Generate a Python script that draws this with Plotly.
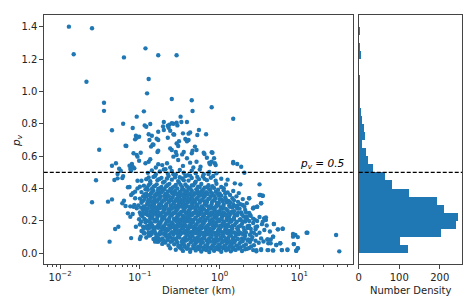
import plotly.graph_objects as go

# ---------------- data (log10 diameter in km, geometric albedo p_v) ----------------
band_a = [(-0.62,0.031),(-0.55,0.022),(-0.5,0.036),(-0.46,0.015),(-0.41,0.028),(-0.37,0.009),(-0.33,0.033),(-0.3,0.018),
          (-0.26,0.027),(-0.23,0.011),(-0.2,0.035),(-0.17,0.02),(-0.13,0.008),(-0.1,0.03),(-0.07,0.016),(-0.04,0.038),
          (-0.01,0.024),(0.02,0.01),(0.05,0.032),(0.08,0.019),(0.11,0.027),(0.14,0.012),(0.17,0.036),(0.2,0.021),
          (0.24,0.03),(0.28,0.014),(0.32,0.025),(0.37,0.033),(0.42,0.02),(0.46,0.012),(0.52,0.026),(0.6,0.02),
          (0.67,0.018),(0.78,0.02),(0.85,0.024),(0.96,0.016),(0.98,0.031),(-0.44,0.04),(-0.27,0.039),(-0.15,0.037),
          (0.0,0.04),(0.12,0.039)]
band_b = [(-0.78,0.072),(-0.72,0.058),(-0.68,0.066),(-0.64,0.049),(-0.6,0.075),(-0.57,0.056),(-0.53,0.067),(-0.49,0.048),
          (-0.46,0.062),(-0.43,0.077),(-0.39,0.053),(-0.36,0.069),(-0.33,0.046),(-0.3,0.061),(-0.27,0.074),(-0.24,0.052),
          (-0.21,0.066),(-0.18,0.045),(-0.15,0.059),(-0.12,0.073),(-0.09,0.05),(-0.06,0.064),(-0.03,0.078),(0.0,0.055),
          (0.03,0.068),(0.06,0.047),(0.09,0.061),(0.12,0.075),(0.15,0.053),(0.18,0.067),(0.21,0.049),(0.25,0.063),
          (0.29,0.076),(0.33,0.055),(0.38,0.07),(0.43,0.05),(0.49,0.065),(0.55,0.073),(0.61,0.062),(0.64,0.086),
          (0.71,0.051),(0.76,0.062),(0.93,0.057),(-0.8,0.093),(-0.77,0.072)]
band_c = [(-0.92,0.098),(-0.87,0.112),(-0.83,0.088),(-0.79,0.104),(-0.75,0.118),(-0.72,0.092),(-0.68,0.108),(-0.65,0.083),
          (-0.62,0.099),(-0.58,0.114),(-0.55,0.09),(-0.52,0.105),(-0.49,0.119),(-0.46,0.085),(-0.43,0.1),(-0.4,0.115),
          (-0.37,0.091),(-0.34,0.107),(-0.31,0.082),(-0.28,0.097),(-0.25,0.113),(-0.22,0.088),(-0.19,0.103),(-0.16,0.118),
          (-0.13,0.093),(-0.1,0.109),(-0.07,0.084),(-0.04,0.1),(-0.01,0.116),(0.02,0.09),(0.05,0.106),(0.08,0.081),
          (0.11,0.097),(0.14,0.112),(0.17,0.087),(0.2,0.103),(0.24,0.117),(0.28,0.092),(0.32,0.108),(0.36,0.085),
          (0.41,0.1),(0.46,0.114),(0.52,0.092),(0.6,0.086),(0.67,0.103),(0.92,0.103),(0.98,0.1)]
band_d = [(-0.98,0.138),(-0.94,0.124),(-0.9,0.152),(-0.86,0.131),(-0.83,0.146),(-0.8,0.121),(-0.77,0.158),(-0.74,0.135),
          (-0.71,0.149),(-0.68,0.126),(-0.65,0.142),(-0.62,0.157),(-0.59,0.129),(-0.56,0.145),(-0.53,0.122),(-0.5,0.139),
          (-0.47,0.154),(-0.44,0.127),(-0.41,0.143),(-0.38,0.159),(-0.35,0.132),(-0.32,0.148),(-0.29,0.123),(-0.26,0.14),
          (-0.23,0.155),(-0.2,0.128),(-0.17,0.144),(-0.14,0.121),(-0.11,0.137),(-0.08,0.153),(-0.05,0.126),(-0.02,0.141),
          (0.01,0.157),(0.04,0.13),(0.07,0.146),(0.1,0.122),(0.13,0.138),(0.16,0.154),(0.19,0.129),(0.23,0.145),
          (0.27,0.125),(0.31,0.142),(0.35,0.156),(0.4,0.131),(0.45,0.148),(0.5,0.127),(0.56,0.144),(0.63,0.135),
          (0.73,0.148),(0.79,0.152),(0.95,0.113),(1.09,0.127)]
band_e = [(-1.0,0.178),(-0.96,0.164),(-0.93,0.192),(-0.89,0.171),(-0.86,0.186),(-0.83,0.162),(-0.8,0.198),(-0.77,0.175),
          (-0.74,0.189),(-0.71,0.166),(-0.68,0.182),(-0.65,0.197),(-0.62,0.169),(-0.59,0.185),(-0.56,0.161),(-0.53,0.179),
          (-0.5,0.194),(-0.47,0.167),(-0.44,0.183),(-0.41,0.199),(-0.38,0.172),(-0.35,0.188),(-0.32,0.163),(-0.29,0.18),
          (-0.26,0.195),(-0.23,0.168),(-0.2,0.184),(-0.17,0.161),(-0.14,0.177),(-0.11,0.193),(-0.08,0.166),(-0.05,0.181),
          (-0.02,0.197),(0.01,0.17),(0.04,0.186),(0.07,0.162),(0.1,0.178),(0.13,0.194),(0.16,0.169),(0.2,0.185),
          (0.24,0.165),(0.28,0.182),(0.32,0.196),(0.37,0.171),(0.42,0.187),(0.47,0.166),(0.53,0.18),(0.59,0.172),
          (0.68,0.181),(-1.05,0.164),(-1.31,0.15),(-1.27,0.164)]
band_f = [(-1.01,0.21),(-0.97,0.228),(-0.93,0.204),(-0.9,0.236),(-0.87,0.217),(-0.84,0.232),(-0.81,0.208),(-0.78,0.224),
          (-0.75,0.239),(-0.72,0.212),(-0.69,0.228),(-0.66,0.203),(-0.63,0.22),(-0.6,0.235),(-0.57,0.207),(-0.54,0.223),
          (-0.51,0.238),(-0.48,0.211),(-0.45,0.227),(-0.42,0.202),(-0.39,0.219),(-0.36,0.234),(-0.33,0.206),(-0.3,0.222),
          (-0.27,0.237),(-0.24,0.21),(-0.21,0.226),(-0.18,0.201),(-0.15,0.218),(-0.12,0.233),(-0.09,0.205),(-0.06,0.221),
          (-0.03,0.236),(0.0,0.209),(0.03,0.225),(0.06,0.24),(0.09,0.213),(0.12,0.229),(0.15,0.204),(0.18,0.22),
          (0.22,0.235),(0.26,0.211),(0.3,0.227),(0.34,0.215),(0.39,0.231),(0.44,0.208),(0.5,0.224),(0.56,0.216),
          (0.58,0.206),(-1.12,0.226),(-1.09,0.243)]
band_g = [(-1.0,0.252),(-0.96,0.268),(-0.93,0.244),(-0.9,0.276),(-0.87,0.257),(-0.84,0.272),(-0.81,0.248),(-0.78,0.264),
          (-0.75,0.279),(-0.72,0.253),(-0.69,0.269),(-0.66,0.245),(-0.63,0.26),(-0.6,0.275),(-0.57,0.249),(-0.54,0.265),
          (-0.51,0.241),(-0.48,0.257),(-0.45,0.273),(-0.42,0.246),(-0.39,0.262),(-0.36,0.277),(-0.33,0.25),(-0.3,0.266),
          (-0.27,0.242),(-0.24,0.258),(-0.21,0.274),(-0.18,0.247),(-0.15,0.263),(-0.12,0.278),(-0.09,0.251),(-0.06,0.267),
          (-0.03,0.243),(0.0,0.259),(0.03,0.275),(0.06,0.248),(0.1,0.264),(0.14,0.244),(0.18,0.26),(0.22,0.276),
          (0.27,0.252),(0.32,0.268),(0.37,0.249),(0.42,0.278),(0.47,0.288),(-1.15,0.247),(-1.04,0.278)]
band_h = [(-1.02,0.296),(-0.98,0.312),(-0.94,0.288),(-0.91,0.304),(-0.88,0.319),(-0.85,0.292),(-0.82,0.308),(-0.79,0.283),
          (-0.76,0.299),(-0.73,0.315),(-0.7,0.287),(-0.67,0.303),(-0.64,0.318),(-0.61,0.291),(-0.58,0.307),(-0.55,0.282),
          (-0.52,0.298),(-0.49,0.314),(-0.46,0.286),(-0.43,0.302),(-0.4,0.317),(-0.37,0.29),(-0.34,0.306),(-0.31,0.281),
          (-0.28,0.297),(-0.25,0.313),(-0.22,0.285),(-0.19,0.301),(-0.16,0.316),(-0.13,0.289),(-0.1,0.305),(-0.07,0.28),
          (-0.04,0.296),(-0.01,0.311),(0.02,0.284),(0.05,0.3),(0.09,0.315),(0.13,0.288),(0.17,0.304),(0.22,0.293),
          (0.26,0.303),(0.29,0.298),(0.34,0.31),(0.52,0.309),(-1.08,0.288),(-1.12,0.29),(-1.18,0.292),(-1.07,0.298)]
band_i = [(-1.0,0.338),(-0.96,0.324),(-0.92,0.352),(-0.89,0.331),(-0.86,0.346),(-0.83,0.322),(-0.8,0.357),(-0.77,0.335),
          (-0.74,0.349),(-0.71,0.326),(-0.68,0.342),(-0.65,0.358),(-0.62,0.329),(-0.59,0.345),(-0.56,0.321),(-0.53,0.339),
          (-0.5,0.354),(-0.47,0.327),(-0.44,0.343),(-0.41,0.359),(-0.38,0.332),(-0.35,0.348),(-0.32,0.323),(-0.29,0.34),
          (-0.26,0.355),(-0.23,0.328),(-0.2,0.344),(-0.17,0.321),(-0.14,0.337),(-0.11,0.353),(-0.08,0.326),(-0.05,0.341),
          (-0.01,0.357),(0.03,0.33),(0.07,0.346),(0.11,0.324),(0.16,0.34),(0.21,0.352),(0.29,0.335),(0.37,0.34),
          (-1.06,0.34),(-1.2,0.325),(-1.22,0.309),(-1.35,0.333),(-1.4,0.319),(-1.6,0.315)]
band_j = [(-0.98,0.378),(-0.94,0.364),(-0.9,0.392),(-0.86,0.371),(-0.83,0.386),(-0.8,0.362),(-0.77,0.397),(-0.74,0.375),
          (-0.71,0.389),(-0.68,0.366),(-0.65,0.382),(-0.62,0.398),(-0.59,0.369),(-0.56,0.385),(-0.53,0.361),(-0.5,0.379),
          (-0.47,0.394),(-0.44,0.367),(-0.41,0.383),(-0.38,0.363),(-0.35,0.388),(-0.32,0.372),(-0.29,0.395),(-0.26,0.368),
          (-0.23,0.384),(-0.2,0.361),(-0.17,0.377),(-0.13,0.393),(-0.09,0.366),(-0.05,0.381),(0.0,0.37),(0.05,0.389),
          (0.1,0.376),(0.17,0.385),(0.24,0.372),(0.51,0.36),(0.54,0.356),(-1.09,0.371),(-1.11,0.36),(-1.06,0.381),
          (-1.15,0.408)]
band_k = [(-0.95,0.418),(-0.91,0.405),(-0.87,0.432),(-0.83,0.411),(-0.79,0.426),(-0.75,0.402),(-0.71,0.437),(-0.67,0.415),
          (-0.63,0.429),(-0.59,0.406),(-0.55,0.422),(-0.51,0.438),(-0.47,0.409),(-0.43,0.425),(-0.39,0.403),(-0.35,0.419),
          (-0.31,0.434),(-0.27,0.412),(-0.23,0.428),(-0.19,0.405),(-0.14,0.421),(-0.09,0.414),(-0.04,0.43),(0.02,0.41),
          (0.08,0.425),(0.19,0.432),(0.26,0.426),(0.5,0.426),(-1.03,0.401),(-1.0,0.411),(-1.13,0.41)]
band_l = [(-0.92,0.458),(-0.87,0.445),(-0.83,0.472),(-0.78,0.451),(-0.73,0.466),(-0.69,0.443),(-0.64,0.477),(-0.6,0.455),
          (-0.56,0.469),(-0.52,0.446),(-0.47,0.462),(-0.43,0.478),(-0.39,0.449),(-0.35,0.465),(-0.3,0.442),(-0.26,0.458),
          (-0.21,0.474),(-0.16,0.452),(-0.11,0.467),(-0.05,0.448),(0.02,0.461),(0.1,0.455),(-1.03,0.448),(-0.98,0.448),
          (-1.22,0.465),(-1.21,0.477),(-1.28,0.463),(-1.32,0.453),(-1.55,0.451)]
band_m = [(-0.9,0.497),(-0.85,0.512),(-0.8,0.488),(-0.75,0.505),(-0.7,0.518),(-0.65,0.492),(-0.6,0.508),(-0.55,0.485),
          (-0.5,0.515),(-0.45,0.498),(-0.4,0.482),(-0.35,0.511),(-0.3,0.494),(-0.25,0.517),(-0.2,0.489),(-0.13,0.503),
          (-0.04,0.494),(0.31,0.498),(-1.28,0.49),(-1.24,0.51),(-1.26,0.523),(-1.12,0.521),(-1.11,0.51),(-1.07,0.525),
          (-1.13,0.541),(-1.1,0.552),(-1.09,0.535)]
band_n = [(-0.93,0.556),(-0.89,0.566),(-0.87,0.581),(-0.77,0.55),(-0.72,0.545),(-0.66,0.556),(-0.58,0.597),(-0.54,0.607),
          (-0.52,0.576),(-0.41,0.587),(-0.37,0.56),(-0.29,0.566),(-0.1,0.566),(-0.12,0.55),(-0.06,0.556),(0.17,0.564),
          (0.17,0.556),(0.22,0.552),(0.27,0.535),(-0.05,0.545),(-0.13,0.56),(-0.07,0.587),(-0.16,0.59),(-0.19,0.613),
          (-1.35,0.541),(-1.3,0.556),(-1.04,0.607),(-0.99,0.621),(-1.08,0.618),(-1.03,0.597),(-1.01,0.572),(-0.8,0.53),
          (-0.62,0.53),(-0.46,0.54),(-0.33,0.53),(-0.68,0.52),(-0.24,0.535)]
band_o = [(-0.86,0.659),(-0.84,0.673),(-0.83,0.671),(-0.77,0.634),(-0.78,0.626),(-0.62,0.648),(-0.6,0.638),(-0.55,0.626),
          (-0.47,0.611),(-0.45,0.626),(-0.35,0.618),(-0.34,0.634),(-0.31,0.659),(-0.29,0.638),(-0.2,0.621),(-0.09,0.621),
          (-1.18,0.665),(-1.51,0.64),(-0.88,0.7),(-0.79,0.708),(-0.77,0.7),(-0.65,0.714),(-0.43,0.706),(-0.41,0.692),
          (-0.39,0.7),(-0.54,0.679),(-0.51,0.692),(-0.52,0.663),(-1.05,0.726),(-1.01,0.72),(-1.06,0.704),(-1.04,0.714),
          (-1.17,0.663),(-0.1,0.624)]
band_p = [(-0.89,0.735),(-0.85,0.726),(-0.58,0.735),(-0.46,0.741),(-0.39,0.739),(-0.37,0.747),(-0.28,0.731),(-0.26,0.762),
          (-0.17,0.735),(-0.94,0.79),(-0.92,0.782),(-0.87,0.799),(-0.77,0.751),(-0.49,0.844),(-0.41,0.811),(-0.48,0.811),
          (-0.54,0.807),(-0.6,0.803),(-0.63,0.795),(-0.65,0.788),(-0.7,0.811),(-0.71,0.784),(-0.64,0.776),(-0.7,0.762),
          (-1.35,0.76),(-1.21,0.8),(-1.09,0.774),(-1.04,0.844),(-0.95,0.877),(-0.62,0.757),(-0.57,0.733),(0.17,0.831),
          (-0.58,0.8),(-0.53,0.79)]
band_q = [(-1.45,0.93),(-1.45,0.88),(-0.91,0.988),(-0.89,1.077),(-0.6,0.953),(-0.35,0.945),(-0.34,0.879),(-0.1,0.902),
          (-1.67,1.06),(-1.83,1.23),(-1.2,1.21),(-0.93,1.266),(-0.77,1.223),(-0.54,1.223),(-1.89,1.40),(-1.6,1.39)]
left_low = [(-1.38,0.072),(-1.11,0.094),(-0.99,0.103),(-1.0,0.088),(-0.89,0.109),(-0.95,0.124),(-0.81,0.072),(-0.77,0.093)]
right_tail = [(1.46,0.113),(1.5,0.012),(1.1,0.127),(0.92,0.119),(0.79,0.152),(0.73,0.148),(0.68,0.181),(0.54,0.195),
              (0.56,0.216),(0.58,0.222),(0.47,0.2),(0.43,0.284),(0.47,0.288),(0.5,0.36),(0.54,0.356),(0.37,0.34),
              (0.34,0.226),(0.42,0.278),(0.52,0.309),(0.6,0.086),(0.67,0.103),(0.64,0.062),(0.71,0.051),(0.76,0.062),
              (0.93,0.057),(0.98,0.031),(0.96,0.016),(0.85,0.02),(0.78,0.02),(0.67,0.018),(0.61,0.02),(0.52,0.02),
              (0.46,0.02)]
# extra points read from the densest part of the cloud
core_1 = [(-0.52,0.045),(-0.48,0.028),(-0.445,0.052),(-0.405,0.038),(-0.365,0.024),(-0.325,0.05),(-0.285,0.035),
          (-0.245,0.041),(-0.205,0.026),(-0.165,0.048),(-0.125,0.033),(-0.085,0.044),(-0.045,0.027),(-0.015,0.051),
          (0.025,0.036),(0.065,0.042),(0.1,0.029),(0.135,0.049),(0.165,0.025),(0.225,0.045),(0.265,0.037),
          (0.305,0.047),(0.345,0.028),(0.395,0.042)]
core_2 = [(-0.74,0.083),(-0.7,0.079),(-0.655,0.095),(-0.615,0.071),(-0.585,0.088),(-0.545,0.081),(-0.505,0.097),
          (-0.475,0.073),(-0.445,0.09),(-0.405,0.084),(-0.375,0.099),(-0.345,0.076),(-0.315,0.092),(-0.285,0.08),
          (-0.255,0.087),(-0.225,0.072),(-0.195,0.094),(-0.165,0.079),(-0.135,0.086),(-0.105,0.098),(-0.075,0.074),
          (-0.045,0.089),(-0.015,0.082),(0.015,0.096),(0.045,0.075),(0.075,0.091),(0.105,0.083),(0.135,0.07),
          (0.165,0.095),(0.195,0.078),(0.23,0.088),(0.27,0.072),(0.31,0.093),(0.35,0.079),(0.4,0.086),(0.45,0.078)]
core_3 = [(-0.89,0.128),(-0.85,0.121),(-0.815,0.135),(-0.775,0.113),(-0.745,0.129),(-0.705,0.121),(-0.675,0.137),
          (-0.635,0.115),(-0.605,0.13),(-0.575,0.124),(-0.535,0.133),(-0.505,0.111),(-0.475,0.127),(-0.445,0.136),
          (-0.415,0.119),(-0.385,0.131),(-0.355,0.113),(-0.325,0.126),(-0.295,0.138),(-0.265,0.12),(-0.235,0.131),
          (-0.205,0.115),(-0.175,0.129),(-0.145,0.137),(-0.115,0.12),(-0.085,0.131),(-0.055,0.114),(-0.025,0.127),
          (0.005,0.136),(0.035,0.118),(0.065,0.128),(0.095,0.139),(0.125,0.117),(0.16,0.13),(0.2,0.12),(0.24,0.133),
          (0.29,0.119),(0.33,0.129),(0.38,0.115),(0.43,0.126)]
core_4 = [(-0.95,0.151),(-0.915,0.167),(-0.875,0.158),(-0.845,0.172),(-0.815,0.152),(-0.785,0.165),(-0.755,0.176),
          (-0.725,0.156),(-0.695,0.168),(-0.665,0.151),(-0.635,0.174),(-0.605,0.16),(-0.575,0.17),(-0.545,0.153),
          (-0.515,0.166),(-0.485,0.177),(-0.455,0.157),(-0.425,0.169),(-0.395,0.152),(-0.365,0.175),(-0.335,0.161),
          (-0.305,0.171),(-0.275,0.154),(-0.245,0.167),(-0.215,0.178),(-0.185,0.158),(-0.155,0.169),(-0.125,0.152),
          (-0.095,0.176),(-0.065,0.16),(-0.035,0.172),(-0.005,0.155),(0.025,0.167),(0.055,0.176),(0.085,0.157),
          (0.115,0.168),(0.15,0.16),(0.185,0.174),(0.22,0.155),(0.26,0.17),(0.3,0.158),(0.35,0.168),(0.39,0.151),
          (0.45,0.162)]
core_5 = [(-0.985,0.195),(-0.945,0.212),(-0.91,0.2),(-0.875,0.193),(-0.845,0.214),(-0.815,0.198),(-0.785,0.209),
          (-0.755,0.191),(-0.725,0.205),(-0.695,0.217),(-0.665,0.196),(-0.635,0.208),(-0.605,0.19),(-0.575,0.213),
          (-0.545,0.2),(-0.515,0.21),(-0.485,0.193),(-0.455,0.206),(-0.425,0.218),(-0.395,0.197),(-0.365,0.209),
          (-0.335,0.191),(-0.305,0.214),(-0.275,0.2),(-0.245,0.211),(-0.215,0.194),(-0.185,0.207),(-0.155,0.217),
          (-0.125,0.198),(-0.095,0.21),(-0.065,0.192),(-0.035,0.214),(-0.005,0.199),(0.025,0.21),(0.055,0.193),
          (0.085,0.205),(0.115,0.216),(0.145,0.197),(0.18,0.21),(0.215,0.194),(0.25,0.206),(0.29,0.197),(0.33,0.211),
          (0.37,0.2),(0.42,0.214)]
core_6 = [(-0.99,0.238),(-0.95,0.247),(-0.915,0.255),(-0.885,0.234),(-0.855,0.246),(-0.825,0.258),(-0.795,0.239),
          (-0.765,0.25),(-0.735,0.232),(-0.705,0.255),(-0.675,0.242),(-0.645,0.252),(-0.615,0.235),(-0.585,0.248),
          (-0.555,0.259),(-0.525,0.239),(-0.495,0.25),(-0.465,0.233),(-0.435,0.256),(-0.405,0.242),(-0.375,0.252),
          (-0.345,0.236),(-0.315,0.249),(-0.285,0.258),(-0.255,0.24),(-0.225,0.251),(-0.195,0.234),(-0.165,0.256),
          (-0.135,0.242),(-0.105,0.253),(-0.075,0.236),(-0.045,0.248),(-0.015,0.258),(0.015,0.24),(0.045,0.252),
          (0.075,0.234),(0.11,0.248),(0.15,0.256),(0.19,0.238),(0.23,0.25),(0.28,0.24),(0.33,0.252),(0.38,0.238)]
core_7 = [(-0.985,0.282),(-0.95,0.29),(-0.915,0.274),(-0.885,0.297),(-0.855,0.281),(-0.825,0.292),(-0.795,0.275),
          (-0.765,0.288),(-0.735,0.298),(-0.705,0.278),(-0.675,0.29),(-0.645,0.273),(-0.615,0.296),(-0.585,0.282),
          (-0.555,0.293),(-0.525,0.276),(-0.495,0.289),(-0.465,0.299),(-0.435,0.28),(-0.405,0.291),(-0.375,0.274),
          (-0.345,0.297),(-0.315,0.283),(-0.285,0.293),(-0.255,0.277),(-0.225,0.289),(-0.195,0.272),(-0.165,0.295),
          (-0.135,0.281),(-0.105,0.291),(-0.075,0.275),(-0.045,0.287),(-0.015,0.297),(0.015,0.279),(0.045,0.29),
          (0.08,0.274),(0.12,0.296),(0.16,0.282),(0.2,0.291),(0.25,0.276),(0.31,0.287)]
core_8 = [(-0.975,0.322),(-0.94,0.336),(-0.905,0.317),(-0.875,0.329),(-0.845,0.314),(-0.815,0.333),(-0.785,0.32),
          (-0.755,0.338),(-0.725,0.315),(-0.695,0.327),(-0.665,0.336),(-0.635,0.318),(-0.605,0.33),(-0.575,0.312),
          (-0.545,0.334),(-0.515,0.32),(-0.485,0.331),(-0.455,0.314),(-0.425,0.327),(-0.395,0.338),(-0.365,0.318),
          (-0.335,0.329),(-0.305,0.312),(-0.275,0.335),(-0.245,0.321),(-0.215,0.331),(-0.185,0.315),(-0.155,0.327),
          (-0.125,0.338),(-0.095,0.318),(-0.065,0.329),(-0.035,0.313),(0.0,0.334),(0.04,0.32),(0.08,0.331),
          (0.13,0.316),(0.18,0.327),(0.23,0.318)]
core_9 = [(-0.96,0.352),(-0.92,0.368),(-0.885,0.359),(-0.85,0.376),(-0.815,0.354),(-0.785,0.372),(-0.755,0.36),
          (-0.725,0.378),(-0.695,0.355),(-0.665,0.368),(-0.635,0.352),(-0.605,0.376),(-0.575,0.362),(-0.545,0.372),
          (-0.515,0.356),(-0.485,0.369),(-0.455,0.353),(-0.425,0.377),(-0.395,0.361),(-0.365,0.372),(-0.335,0.355),
          (-0.305,0.368),(-0.275,0.381),(-0.245,0.357),(-0.215,0.371),(-0.185,0.354),(-0.15,0.366),(-0.11,0.378),
          (-0.07,0.355),(-0.03,0.368),(0.02,0.356),(0.07,0.371),(0.13,0.36)]
core_10 = [(-0.93,0.395),(-0.89,0.42),(-0.85,0.398),(-0.81,0.416),(-0.77,0.39),(-0.73,0.41),(-0.69,0.397),(-0.65,0.422),
           (-0.61,0.392),(-0.57,0.412),(-0.53,0.4),(-0.49,0.424),(-0.45,0.393),(-0.41,0.413),(-0.37,0.398),(-0.33,0.42),
           (-0.29,0.394),(-0.25,0.41),(-0.21,0.391),(-0.16,0.408),(-0.12,0.396),(-0.07,0.404),(-0.02,0.393),(0.05,0.402)]
core_11 = [(-0.89,0.468),(-0.81,0.478),(-0.76,0.458),(-0.66,0.462),(-0.58,0.488),(-0.5,0.47),(-0.45,0.452),(-0.37,0.48),
           (-0.28,0.472),(-0.19,0.46),(-0.08,0.478),(-0.14,0.49)]

# histogram of p_v (bins of width 0.05 from 0 to 1.4)
hist_bin_width = 0.05
hist_counts = [121, 101, 202, 240, 244, 209, 193, 124, 82, 64, 35, 22, 17, 8,
               16, 12, 7, 3, 2, 1, 1, 1, 0, 0, 3, 1, 0, 2]

pv_cut = 0.5
x_tick_vals = [0.01, 0.1, 1, 10]
x_tick_text = ["10<sup>\u22122</sup>", "10<sup>\u22121</sup>", "10<sup>0</sup>", "10<sup>1</sup>"]
y_tick_vals = [0.0, 0.2, 0.4, 0.6, 0.8, 1.0, 1.2, 1.4]
h_tick_vals = [0, 100, 200]

# ---------------- figure ----------------
# the page body has an 8px margin, so the figure starts at (8, 8) in the window
OFF = 8
W, H = 471 - OFF, 306 - OFF
def px(x):
    return (x - OFF) / W
def py(y):
    return 1 - (y - OFF) / H

groups = [band_a, band_b, band_c, band_d, band_e, band_f, band_g, band_h, band_i, band_j,
          band_k, band_l, band_m, band_n, band_o, band_p, band_q, left_low, right_tail,
          core_1, core_2, core_3, core_4, core_5, core_6, core_7, core_8, core_9, core_10, core_11]
pts = [p for g in groups for p in g]
diam = [10 ** d for d, _ in pts]
alb = [a for _, a in pts]

BLUE = "#1f77b4"
FONT = "DejaVu Sans"
SPINE = "#444444"

fig = go.Figure()
fig.add_trace(go.Scatter(x=diam, y=alb, mode="markers", xaxis="x", yaxis="y",
                         marker=dict(color=BLUE, size=4.4, line=dict(width=0)),
                         showlegend=False, hoverinfo="skip"))

centers = [hist_bin_width * (i + 0.5) for i in range(len(hist_counts))]
fig.add_trace(go.Bar(x=hist_counts, y=centers, orientation="h", width=hist_bin_width,
                     xaxis="x2", yaxis="y2", marker=dict(color=BLUE, line=dict(width=0)),
                     showlegend=False, hoverinfo="skip"))

minor_vals = [m * 10.0 ** e for e in range(-3, 2) for m in range(2, 10)]

x0, x1 = px(41), px(352)
hx0, hx1 = px(358), px(462)
y0, y1 = py(264), py(15)

axis_common = dict(showline=True, linecolor=SPINE, linewidth=1, mirror=True,
                   showgrid=False, zeroline=False,
                   tickfont=dict(family=FONT, size=10, color="#222"),
                   tickcolor=SPINE, tickwidth=0.8, ticklen=3.5)

fig.update_layout(
    width=W, height=H, margin=dict(l=0, r=0, t=0, b=0),
    paper_bgcolor="white", plot_bgcolor="white", bargap=0,
    xaxis=dict(type="log", range=[-2.205, 1.669], domain=[x0, x1], anchor="y",
               ticks="outside", tickmode="array", tickvals=x_tick_vals, ticktext=x_tick_text,
               minor=dict(ticks="outside", tickmode="array", tickvals=minor_vals, ticklen=2,
                          tickwidth=0.6, tickcolor=SPINE),
               **axis_common),
    yaxis=dict(range=[-0.066, 1.472], domain=[y0, y1], anchor="x",
               ticks="outside", tickmode="array", tickvals=y_tick_vals,
               ticktext=["%.1f" % v for v in y_tick_vals], **axis_common),
    xaxis2=dict(range=[0, 255], domain=[hx0, hx1], anchor="y2",
                ticks="outside", tickmode="array", tickvals=h_tick_vals, **axis_common),
    yaxis2=dict(range=[-0.066, 1.472], domain=[y0, y1], anchor="x2",
                showticklabels=False, ticks="", **{k: v for k, v in axis_common.items()
                                                    if k not in ("ticklen", "tickwidth", "tickcolor")}),
)

dash_line = dict(color="black", width=1.2, dash="4px,2px")
fig.add_shape(type="line", xref="x domain", yref="y", x0=0, x1=1, y0=pv_cut, y1=pv_cut, line=dash_line)
fig.add_shape(type="line", xref="x2 domain", yref="y2", x0=0, x1=1, y0=pv_cut, y1=pv_cut, line=dash_line)

fig.add_annotation(xref="paper", yref="paper", x=px(346), y=py(164), xanchor="right", yanchor="middle",
                   text="<i>p<sub>v</sub> = 0.5</i>", showarrow=False,
                   font=dict(family=FONT, size=10.5, color="black"))
fig.add_annotation(xref="paper", yref="paper", x=(x0 + x1) / 2, y=py(290), xanchor="center", yanchor="middle",
                   text="Diameter (km)", showarrow=False, font=dict(family=FONT, size=10, color="#222"))
fig.add_annotation(xref="paper", yref="paper", x=(hx0 + hx1) / 2, y=py(290), xanchor="center", yanchor="middle",
                   text="Number Density", showarrow=False, font=dict(family=FONT, size=10, color="#222"))
fig.add_annotation(xref="paper", yref="paper", x=px(14), y=py(140), xanchor="center", yanchor="middle",
                   text="<i>p<sub>v</sub></i>", textangle=-90, showarrow=False,
                   font=dict(family=FONT, size=10.5, color="#222"))

fig.write_html("out.html")
